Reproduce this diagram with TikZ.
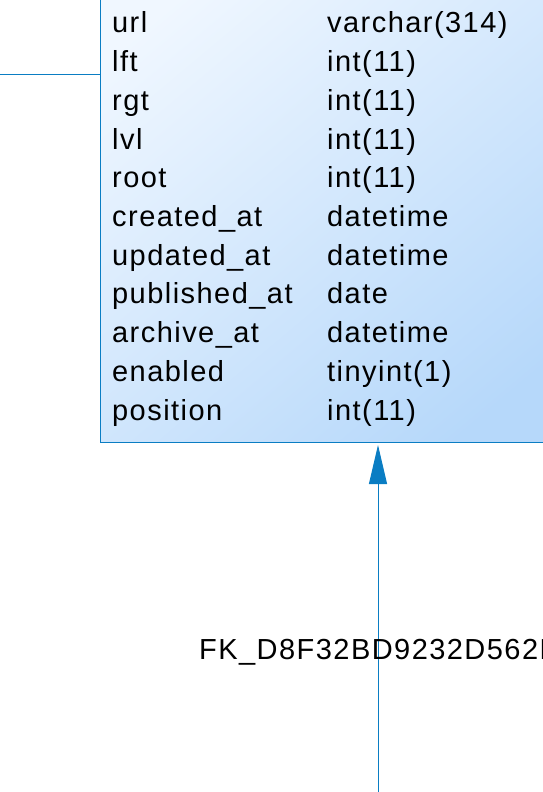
\documentclass[tikz,border=0pt]{standalone}
\usepackage{fontspec}
\usetikzlibrary{arrows.meta}
\newfontfamily\erfont[LetterSpace=5]{Liberation Sans}
\definecolor{erline}{RGB}{10,125,195}
\definecolor{erlight}{RGB}{240,247,255}
\definecolor{erdark}{RGB}{182,216,250}
\tikzset{
  tblbox/.style={draw=erline, line width=1.2pt, rectangle, inner sep=0pt,
    top color=erlight, bottom color=erdark, shading angle=40,
    minimum width=520pt, minimum height=520pt},
  fld/.style={anchor=base west, inner sep=0pt, text=black,
    font=\erfont\fontsize{29}{35}\selectfont},
  conn/.style={draw=erline, line width=1pt},
  fkarrow/.style={conn, -{Triangle[width=18pt,length=39pt]}}
}
\begin{document}
\begin{tikzpicture}[x=1pt,y=-1pt]
\useasboundingbox (0,0) rectangle (543,792);
\clip (0,0) rectangle (543,792);
\node[tblbox, anchor=south west] (tbl) at (100,443) {};
\foreach \n/\t [count=\i from 0] in {url/varchar(314), lft/int(11), rgt/int(11), lvl/int(11), root/int(11), created\_at/datetime, updated\_at/datetime, published\_at/date, archive\_at/datetime, enabled/tinyint(1), position/int(11)}{
  \node[fld] (n\i) at (112,{33+38.7*\i}) {\n};
  \node[fld] (t\i) at (327,{33+38.7*\i}) {\t};
}
\coordinate (lsrc) at (0,74);
\draw[conn] (lsrc) -- (lsrc -| tbl.west);
\coordinate (fksrc) at (378,792);
\draw[fkarrow] (fksrc) -- ([yshift=-2pt]fksrc |- tbl.south);
\node[fld] (fklabel) at (199,659) {FK\_D8F32BD9232D562B};
\end{tikzpicture}
\end{document}
